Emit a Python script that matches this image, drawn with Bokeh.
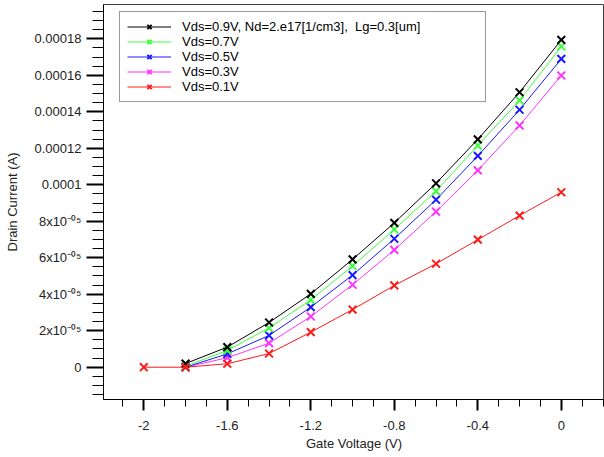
import numpy as np
from bokeh.plotting import figure
from bokeh.models import Range1d, FixedTicker, CustomJSTickFormatter, Legend, LegendItem
from bokeh.embed import file_html
from bokeh.resources import INLINE

# ---- data ----
gate_v = [-1.8, -1.6, -1.4, -1.2, -1.0, -0.8, -0.6, -0.4, -0.2, 0.0]
gate_v_red = [-2.0, -1.8, -1.6, -1.4, -1.2, -1.0, -0.8, -0.6, -0.4, -0.2, 0.0]
id_vds09 = [2.0e-6, 1.10e-5, 2.45e-5, 4.02e-5, 5.91e-5, 7.91e-5, 1.008e-4, 1.249e-4, 1.507e-4, 1.794e-4]
id_vds07 = [5e-7, 9.2e-6, 2.15e-5, 3.69e-5, 5.55e-5, 7.55e-5, 9.65e-5, 1.215e-4, 1.462e-4, 1.758e-4]
id_vds05 = [0.0, 7.3e-6, 1.74e-5, 3.29e-5, 5.05e-5, 7.04e-5, 9.18e-5, 1.158e-4, 1.411e-4, 1.690e-4]
id_vds03 = [0.0, 5.2e-6, 1.32e-5, 2.78e-5, 4.52e-5, 6.43e-5, 8.53e-5, 1.079e-4, 1.325e-4, 1.599e-4]
id_vds01 = [0.0, 0.0, 1.9e-6, 7.5e-6, 1.92e-5, 3.16e-5, 4.48e-5, 5.67e-5, 6.99e-5, 8.31e-5, 9.59e-5]

series_labels = ["Vds=0.9V, Nd=2.e17[1/cm3],  Lg=0.3[um]", "Vds=0.7V", "Vds=0.5V", "Vds=0.3V", "Vds=0.1V"]
series_colors = ["#000000", "#3cff3c", "#1a1aff", "#ff33ff", "#ff1a1a"]

x_ticks = [-2.0, -1.6, -1.2, -0.8, -0.4, 0.0]
x_tick_labels = ["-2", "-1.6", "-1.2", "-0.8", "-0.4", "0"]
y_ticks = [0.0, 2e-5, 4e-5, 6e-5, 8e-5, 1e-4, 1.2e-4, 1.4e-4, 1.6e-4, 1.8e-4]
y_tick_labels = ["0", "2x10\u207b\u2070\u2075", "4x10\u207b\u2070\u2075", "6x10\u207b\u2070\u2075",
                 "8x10\u207b\u2070\u2075", "0.0001", "0.00012", "0.00014", "0.00016", "0.00018"]

FONT = "Liberation Sans"

p = figure(width=604, height=457, output_backend="svg", toolbar_location=None,
           x_range=Range1d(-2.1931, 0.2069), y_range=Range1d(-1.770e-5, 1.988e-4),
           min_border_left=103, min_border_right=0, min_border_top=4, min_border_bottom=58,
           background_fill_color="white", border_fill_color="white")
p.xgrid.visible = False
p.ygrid.visible = False
p.outline_line_color = "#404040"
p.outline_line_width = 1

# x axis
xa = p.xaxis[0]
xa.ticker = FixedTicker(ticks=x_ticks, minor_ticks=list(np.round(np.arange(-2.2, 0.21, 0.1), 2)))
xa.formatter = CustomJSTickFormatter(args=dict(labels=x_tick_labels),
                                     code="return labels[Math.round((tick + 2.0) / 0.4)];")
xa.axis_label = "Gate Voltage (V)"
xa.major_tick_out = 11
xa.major_tick_in = 0
xa.minor_tick_out = 7
xa.minor_tick_in = 0
xa.major_tick_line_width = 2
xa.major_label_standoff = 10
xa.axis_label_standoff = 3

# y axis
ya = p.yaxis[0]
ya.ticker = FixedTicker(ticks=y_ticks, minor_ticks=list(np.round(np.arange(-1.5e-5, 1.96e-4, 5e-6), 10)))
ya.formatter = CustomJSTickFormatter(args=dict(labels=y_tick_labels),
                                     code="return labels[Math.round(tick / 2e-5)];")
ya.axis_label = "Drain Current (A)"
ya.major_tick_out = 17
ya.major_tick_in = 0
ya.minor_tick_out = 11
ya.minor_tick_in = 0
ya.major_tick_line_width = 2
ya.major_label_standoff = 5
ya.axis_label_standoff = 12

for ax in (xa, ya):
    ax.axis_line_color = "black"
    ax.axis_line_width = 1
    ax.major_tick_line_color = "black"
    ax.minor_tick_line_color = "black"
    ax.minor_tick_line_width = 1
    ax.major_label_text_font = FONT
    ax.major_label_text_font_size = "13px"
    ax.major_label_text_color = "#222222"
    ax.axis_label_text_font = FONT
    ax.axis_label_text_font_size = "13px"
    ax.axis_label_text_font_style = "normal"
    ax.axis_label_text_color = "#222222"

ys = [id_vds09, id_vds07, id_vds05, id_vds03]
renderers = {}
for idx in [3, 2, 1, 0]:
    c = series_colors[idx]
    ln = p.line(gate_v, ys[idx], line_color=c, line_width=1)
    sc = p.scatter(gate_v, ys[idx], marker="x", size=11, line_color=c, line_width=2)
    renderers[idx] = [ln, sc]
ln = p.line(gate_v_red, id_vds01, line_color=series_colors[4], line_width=1)
sc = p.scatter(gate_v_red, id_vds01, marker="x", size=11, line_color=series_colors[4], line_width=2)
renderers[4] = [ln, sc]

items = [LegendItem(label=series_labels[i], renderers=renderers[i]) for i in range(5)]
legend = Legend(items=items, location=(16, 297.5))
legend.padding = 7
legend.spacing = 0
legend.label_height = 15
legend.glyph_height = 15
legend.glyph_width = 44
legend.label_standoff = 11
legend.label_width = 296
legend.label_text_font = FONT
legend.label_text_font_size = "13px"
legend.label_text_color = "black"
legend.border_line_color = "#333333"
legend.border_line_width = 1.5
legend.background_fill_color = "white"
legend.background_fill_alpha = 1.0
legend.margin = 0
p.add_layout(legend)

open("out.html", "w").write(file_html(p, INLINE))
